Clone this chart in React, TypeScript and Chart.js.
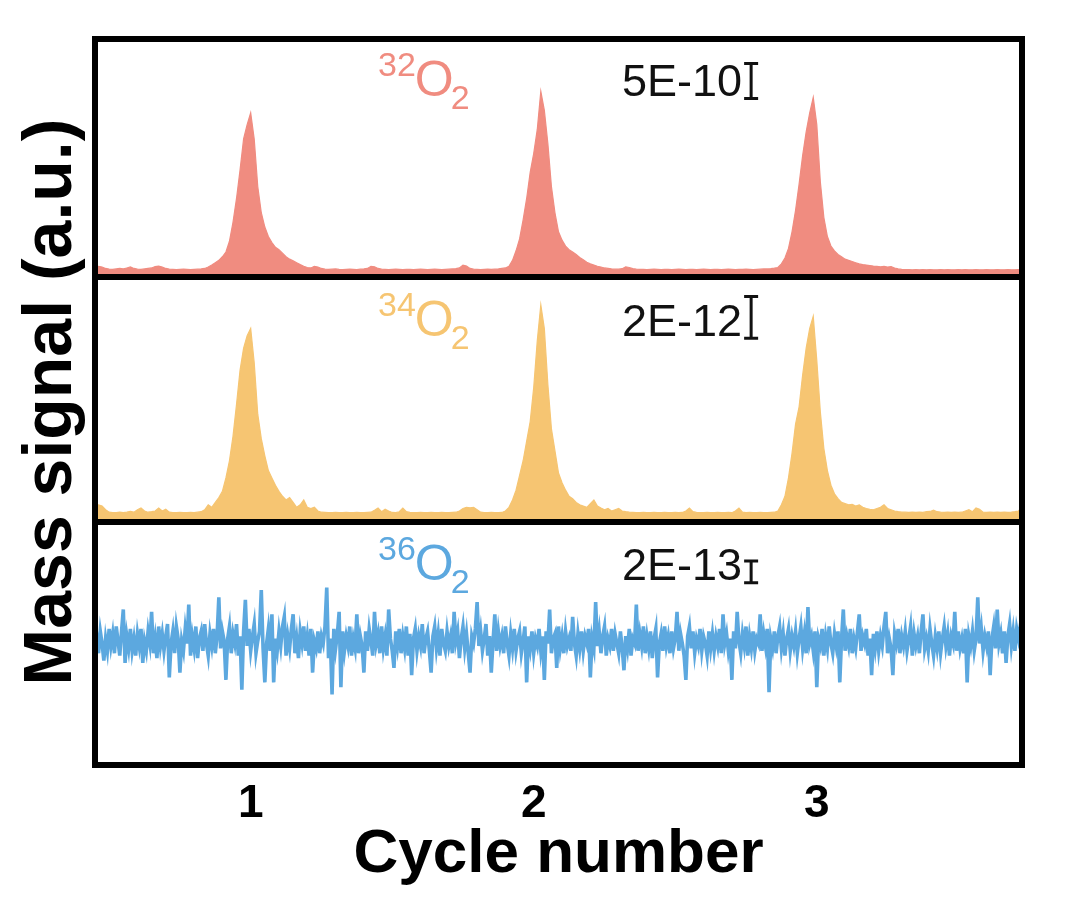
import React, { useEffect, useRef } from 'react';
import { Chart, registerables, ChartConfiguration, Plugin } from 'chart.js';

Chart.register(...registerables);

// sampling grid of the mass-spec traces (cycle number)
const CYCLE_START = 0.45;
const CYCLE_MAX = 3.725;
const PEAK_STEP = 0.0125;
const NOISE_STEP = 0.00625;
const cycleTicks = [1, 2, 3];

// 32O2 signal, a.u. (0-100 per panel)
const o32Signal = [
  3.8, 4.5, 4.2, 3.6, 3.3, 3.2, 3.4, 3.6, 3.4, 3.8,
  4.2, 3.6, 3.3, 3.2, 3.4, 3.6, 3.8, 4.4, 4.6, 4.2,
  3.6, 3.3, 3.2, 3.1, 3.2, 3.3, 3.2, 3.1, 3.2, 3.3,
  3.4, 3.6, 4.2, 5, 6, 7, 8.5, 10.5, 15, 23,
  33, 45, 58, 64, 69, 58, 38, 27, 21, 17,
  14.5, 12.5, 11.5, 10, 8.5, 7.5, 6.8, 6, 5.2, 4.5,
  4, 3.8, 4.5, 4.2, 3.6, 3.3, 3.2, 3.3, 3.4, 3.2,
  3.1, 3.2, 3.3, 3.2, 3.1, 3.3, 3.4, 3.6, 4.5, 4.3,
  3.6, 3.3, 3.2, 3.1, 3.2, 3.3, 3.2, 3.1, 3.2, 3.2,
  3.1, 3.2, 3.3, 3.2, 3.1, 3.2, 3.3, 3.2, 3.1, 3.2,
  3.3, 3.4, 3.5, 3.8, 5, 4.6, 3.6, 3.3, 3.2, 3.1,
  3.2, 3.3, 3.2, 3.3, 3.4, 3.6, 3.8, 4.5, 7, 11,
  16, 24, 33, 44, 52, 62, 78, 70, 56, 38,
  27, 19, 15.5, 13, 11.5, 10.5, 9.5, 8.2, 7.2, 6.2,
  5.5, 5, 4.5, 4.2, 3.8, 3.6, 3.4, 3.3, 3.3, 3.5,
  4.3, 4, 3.5, 3.3, 3.2, 3.2, 3.1, 3.2, 3.3, 3.2,
  3.1, 3.2, 3.2, 3.1, 3.2, 3.3, 3.2, 3.1, 3.2, 3.2,
  3.1, 3.2, 3.3, 3.2, 3.1, 3.2, 3.2, 3.1, 3.2, 3.3,
  3.2, 3.1, 3.2, 3.2, 3.3, 3.2, 3.1, 3.2, 3.3, 3.4,
  3.4, 3.5, 3.7, 4, 5.5, 8, 12, 19, 28, 39,
  51, 61, 69, 75.5, 64, 40, 25, 17, 13, 11,
  9.5, 8.5, 7.5, 7, 6.5, 6, 5.5, 5.2, 5, 4.8,
  4.6, 4.5, 4.3, 4.5, 4.2, 4.4, 3.8, 3.4, 3.2, 3.1,
  3.1, 3.0, 3.1, 3.0, 3.1, 3.0, 3.1, 3.0, 3.0, 3.1,
  3.0, 3.1, 3.0, 3.0, 3.1, 3.0, 3.1, 3.0, 3.0, 3.1,
  3.0, 3.0, 3.1, 3.0, 3.0, 3.1, 3.0, 3.0, 3.1, 3.0,
  3.0, 3.1, 3.0,
];

// 34O2 signal
const o34Signal = [
  6, 7, 6.5, 5, 4, 3.8, 3.8, 4, 3.8, 4,
  4.3, 4, 5, 5.7, 4.5, 4, 4.2, 4.5, 5.7, 4.5,
  5.2, 4, 3.8, 3.8, 3.9, 3.8, 3.8, 3.9, 3.8, 4,
  4.2, 5, 7, 6, 8, 10, 12.5, 18, 25, 35,
  48, 62, 71, 76, 79, 65, 44, 34, 27, 21,
  18, 15, 12.5, 10.5, 9, 10, 8, 6, 7, 9,
  6, 5.5, 6, 4.5, 4, 3.9, 3.8, 3.8, 3.9, 3.8,
  3.8, 3.9, 3.8, 3.8, 3.9, 3.8, 3.8, 3.9, 4, 4.8,
  5.7, 4.2, 5.2, 4.5, 3.9, 3.8, 4.2, 5.7, 4.2, 3.9,
  3.8, 3.8, 3.9, 3.8, 3.8, 3.9, 3.8, 3.8, 3.9, 3.8,
  3.8, 3.9, 4, 4.5, 5.5, 6, 5.8, 6, 5, 4,
  3.8, 3.8, 3.9, 3.8, 3.8, 3.9, 4.5, 6, 9, 13,
  19, 25, 33, 41, 55, 74, 88.6, 79, 56, 38,
  29, 20, 16, 13, 10.5, 9.5, 8, 7, 6.5, 6,
  7.5, 9, 6.5, 5.7, 5, 5.5, 4.5, 5, 5.5, 4.5,
  4.2, 4, 3.9, 3.8, 3.8, 3.9, 3.8, 3.8, 3.9, 3.8,
  3.8, 3.9, 3.8, 3.8, 3.9, 3.8, 3.9, 4.5, 5.7, 4.2,
  3.9, 3.8, 3.8, 3.9, 3.8, 3.8, 3.9, 3.8, 3.8, 3.9,
  3.8, 4.5, 5.7, 4, 3.8, 3.9, 3.8, 3.8, 3.9, 3.8,
  3.8, 3.9, 4, 4.5, 7, 10.5, 18, 28, 40, 47,
  60, 71, 79, 84, 66, 45, 30, 21, 15, 11.5,
  9.5, 8, 7.5, 7, 7.2, 6.5, 7, 6, 5.5, 5.2,
  5, 5.5, 6, 7, 5.5, 5, 4.5, 4.2, 4, 4,
  3.9, 4, 3.9, 4, 3.9, 4.2, 4.3, 4.8, 4.2, 4,
  3.9, 4, 3.9, 4, 3.9, 4, 4.5, 5, 4.2, 5.7,
  5.2, 4, 3.9, 4, 3.9, 4, 3.9, 4, 3.9, 4,
  4.2, 4.5, 6,
];

// 36O2 signal (noise only, finer sampling)
const o36Signal = [
  48, 53, 46, 55, 50, 43, 52, 47, 56, 49, 54, 46, 57, 51, 45, 55, 64, 42, 53, 48, 56, 47, 52, 45, 54,
  49, 56, 42, 51, 47, 55, 50, 63, 46, 52, 44, 57, 49, 54, 47, 53, 58, 36, 50, 55, 46, 57, 52, 38, 51,
  47, 56, 50, 66, 45, 53, 48, 57, 44, 52, 55, 47, 58, 50, 45, 54, 49, 56, 46, 53, 69, 48, 55, 51, 35,
  52, 57, 46, 54, 50, 58, 45, 53, 31, 55, 68, 49, 56, 47, 53, 58, 46, 51, 55, 72, 48, 34, 50, 56, 47,
  62, 34, 52, 47, 55, 49, 57, 61, 45, 53, 48, 56, 62, 46, 52, 44, 55, 50, 57, 47, 53, 45, 56, 38, 51,
  48, 55, 46, 53, 50, 57, 73, 44, 52, 29, 56, 48, 54, 63, 32, 55, 47, 53, 49, 57, 45, 52, 48, 62, 46,
  53, 49, 38, 55, 47, 56, 51, 45, 63, 50, 54, 46, 57, 48, 53, 45, 64, 52, 47, 40, 55, 49, 56, 46, 53,
  48, 57, 45, 54, 37, 52, 56, 47, 53, 49, 58, 46, 52, 55, 47, 38, 53, 57, 48, 54, 45, 56, 50, 47, 55,
  49, 53, 46, 63, 51, 55, 44, 52, 57, 48, 54, 46, 38, 53, 50, 56, 67, 49, 55, 47, 52, 58, 45, 53, 38,
  51, 62, 47, 55, 49, 53, 46, 57, 50, 45, 54, 48, 56, 47, 52, 55, 46, 51, 57, 34, 53, 48, 55, 46, 52,
  49, 56, 47, 53, 35, 55, 50, 64, 46, 52, 54, 40, 57, 48, 53, 46, 55, 49, 52, 47, 61, 50, 45, 54, 48,
  55, 47, 53, 50, 56, 36, 52, 48, 67, 49, 55, 46, 53, 57, 45, 52, 49, 56, 47, 54, 50, 46, 55, 48, 39,
  53, 48, 56, 45, 52, 50, 66, 47, 54, 49, 57, 46, 53, 48, 55, 44, 52, 56, 36, 50, 54, 47, 57, 49, 53,
  46, 55, 48, 52, 63, 47, 54, 50, 45, 35, 53, 57, 48, 55, 46, 52, 49, 56, 47, 53, 50, 45, 55, 48, 54,
  47, 53, 49, 56, 46, 62, 50, 54, 47, 52, 35, 55, 48, 63, 51, 46, 54, 49, 57, 45, 53, 48, 55, 47, 52,
  50, 62, 47, 54, 49, 56, 30, 52, 48, 55, 46, 53, 57, 48, 54, 45, 52, 56, 47, 53, 49, 55, 46, 52, 57,
  48, 54, 46, 65, 50, 53, 47, 55, 32, 52, 49, 56, 45, 53, 48, 57, 50, 46, 54, 49, 55, 34, 52, 64, 47,
  53, 49, 56, 46, 52, 48, 55, 62, 47, 53, 50, 56, 45, 52, 37, 54, 48, 55, 47, 53, 49, 57, 63, 46, 52,
  48, 37, 54, 50, 56, 46, 53, 49, 55, 47, 52, 57, 45, 54, 49, 53, 46, 55, 62, 48, 52, 47, 56, 50, 45,
  53, 48, 55, 46, 52, 57, 49, 54, 45, 53, 50, 63, 47, 55, 48, 52, 46, 56, 34, 53, 49, 55, 47, 52, 69,
  50, 56, 47, 53, 49, 55, 37, 52, 57, 48, 64, 50, 54, 46, 55, 42, 53, 58, 49, 55, 47, 56, 52, 57, 55,
];

const speciesMass = ['32', '34', '36'];
const scaleBarLabels = ['5E-10', '2E-12', '2E-13'];
const scaleBarSpans = [14.7, 17, 9];

const FONT = "'Liberation Sans', Arial, Helvetica, sans-serif";
const RED = '#F08C80';
const ORANGE = '#F6C572';
const BLUE = '#5CA8DF';

const panels = [
  { id: 'yO32', signal: o32Signal, step: PEAK_STEP, color: RED, fill: true, weight: 238 },
  { id: 'yO34', signal: o34Signal, step: PEAK_STEP, color: ORANGE, fill: true, weight: 245 },
  { id: 'yO36', signal: o36Signal, step: NOISE_STEP, color: BLUE, fill: false, weight: 243 },
];

const toPoints = (vals: number[], step: number) => vals.map((v, i) => ({ x: CYCLE_START + i * step, y: v }));

const framePlugin: Plugin = {
  id: 'frameAndLabels',
  afterDatasetsDraw(chart) {
    const { ctx, chartArea: a, scales } = chart;
    const x = scales.x;
    ctx.save();

    // panel labels and scale bars
    panels.forEach((p, k) => {
      const y = scales[p.id];
      const base = y.getPixelForValue(76);
      let lx = x.getPixelForValue(1.45);
      ctx.fillStyle = p.color;
      ctx.textBaseline = 'alphabetic';
      ctx.textAlign = 'left';
      ctx.font = `34px ${FONT}`;
      ctx.fillText(speciesMass[k], lx, base - 20);
      lx += ctx.measureText(speciesMass[k]).width - 1;
      ctx.font = `50px ${FONT}`;
      ctx.fillText('O', lx, base);
      lx += ctx.measureText('O').width - 3;
      ctx.font = `34px ${FONT}`;
      ctx.fillText('2', lx, base + 13);

      const tx = x.getPixelForValue(2.312);
      ctx.fillStyle = '#111';
      ctx.font = `45px ${FONT}`;
      ctx.fillText(scaleBarLabels[k], tx, base);
      const bx = tx + ctx.measureText(scaleBarLabels[k]).width + 9;
      const y0 = y.getPixelForValue(75);
      const y1 = y.getPixelForValue(75 + scaleBarSpans[k]);
      ctx.strokeStyle = '#111';
      ctx.lineWidth = 3;
      ctx.beginPath();
      ctx.moveTo(bx, y0); ctx.lineTo(bx, y1);
      ctx.moveTo(bx - 7, y0); ctx.lineTo(bx + 7, y0);
      ctx.moveTo(bx - 7, y1); ctx.lineTo(bx + 7, y1);
      ctx.stroke();
    });

    // frame and panel dividers
    ctx.strokeStyle = '#000';
    ctx.lineWidth = 6;
    ctx.strokeRect(a.left, a.top, a.right - a.left, a.bottom - a.top);
    ctx.beginPath();
    ['yO32', 'yO34'].forEach((id) => {
      const b = scales[id].bottom;
      ctx.moveTo(a.left, b);
      ctx.lineTo(a.right, b);
    });
    ctx.stroke();

    // y axis title
    ctx.translate(52, (a.top + a.bottom) / 2);
    ctx.rotate(-Math.PI / 2);
    ctx.fillStyle = '#000';
    ctx.font = `bold 68px ${FONT}`;
    ctx.textAlign = 'center';
    ctx.textBaseline = 'middle';
    ctx.fillText('Mass signal (a.u.)', 0, 0);
    ctx.restore();
  },
};

const App: React.FC = () => {
  const canvasRef = useRef<HTMLCanvasElement | null>(null);

  useEffect(() => {
    if (!canvasRef.current) return;

    const yScale = (p: typeof panels[number]) => ({
      type: 'linear',
      position: 'left',
      stack: 'panels',
      stackWeight: p.weight,
      min: 0,
      max: 100,
      ticks: { display: false },
      grid: { display: false, drawTicks: false },
      border: { display: false },
      afterFit: (s: any) => { s.width = 95; },
    });

    // bottom panel first: stacked left axes are placed bottom-up
    const ordered = [...panels].reverse();
    const scales: any = {
      x: {
        type: 'linear',
        min: CYCLE_START,
        max: CYCLE_MAX,
        grid: { display: false, drawTicks: false },
        border: { display: false },
        afterBuildTicks: (s: any) => { s.ticks = cycleTicks.map((v) => ({ value: v })); },
        afterFit: (s: any) => { s.height = 136; },
        ticks: {
          padding: 12,
          autoSkip: false,
          maxRotation: 0,
          color: '#000',
          font: { family: FONT, size: 46, weight: 'bold' },
          callback: (v: any) => String(v),
        },
        title: {
          display: true,
          text: 'Cycle number',
          color: '#000',
          padding: { top: 0, bottom: 15 },
          font: { family: FONT, size: 62, weight: 'bold', lineHeight: 1 },
        },
      },
    };
    ordered.forEach((p) => { scales[p.id] = yScale(p); });

    const config: ChartConfiguration = {
      type: 'line',
      data: {
        datasets: panels.map((p) => ({
          data: toPoints(p.signal, p.step),
          yAxisID: p.id,
          borderColor: p.color,
          backgroundColor: p.color,
          borderWidth: p.fill ? 1.2 : 3.6,
          pointRadius: 0,
          fill: p.fill ? 'start' : false,
          tension: 0,
        })) as any,
      },
      options: {
        responsive: false,
        animation: false,
        layout: { padding: { top: 39, right: 58, left: 0, bottom: 0 } },
        scales,
        plugins: {
          legend: { display: false },
          tooltip: { enabled: false },
        },
      },
      plugins: [framePlugin],
    };

    const chart = new Chart(canvasRef.current, config);
    return () => {
      chart.destroy();
    };
  }, []);

  return (
    <div style={{ position: 'absolute', left: 0, top: 0, width: 1080, height: 901, background: '#fff' }}>
      <canvas ref={canvasRef} width={1080} height={901}></canvas>
    </div>
  );
};

export default App;
